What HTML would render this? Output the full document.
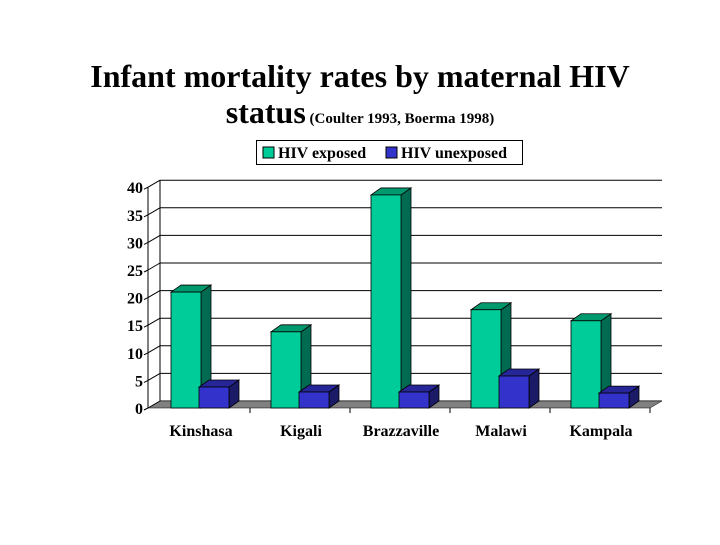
<!DOCTYPE html>
<html><head><meta charset="utf-8"><style>
body{margin:0;background:#fff;}
svg text{font-family:"Liberation Serif",serif;font-weight:bold;fill:#000;}
</style></head><body>
<svg width="720" height="540" viewBox="0 0 720 540">
<text x="360" y="87" font-size="32" text-anchor="middle">Infant mortality rates by maternal HIV</text>
<text x="360" y="123" text-anchor="middle"><tspan font-size="32">status</tspan><tspan font-size="15"> (Coulter 1993, Boerma 1998)</tspan></text>
<g>
<rect x="256.5" y="140.5" width="266" height="24" fill="#fff" stroke="#000"/>
<rect x="263" y="147" width="11" height="11" fill="#00cc99" stroke="#000"/>
<text x="278" y="158" font-size="16">HIV exposed</text>
<rect x="386" y="147" width="11" height="11" fill="#3333cc" stroke="#000"/>
<text x="401" y="158" font-size="16">HIV unexposed</text>
</g>
<g id="plot"></g>
</svg>
<script>
const categories=["Kinshasa","Kigali","Brazzaville","Malawi","Kampala"];
const exposed=[21,13.8,38.6,17.8,15.8];
const unexposed=[3.8,2.9,2.9,5.8,2.7];
const ticks=[0,5,10,15,20,25,30,35,40];
const NS="http://www.w3.org/2000/svg";
const g=document.getElementById('plot');
const X0=148,X1=650,Y0=408,DX=12,DY=-7,K=5.52;
const y=v=>Y0-v*K;
function mk(t,a,p){const e=document.createElementNS(NS,t);for(const k in a)e.setAttribute(k,a[k]);(p||g).appendChild(e);return e;}
ticks.forEach(t=>{const l=mk('line',{x1:X0+DX,x2:X1+DX,y1:y(t)+DY,y2:y(t)+DY,stroke:'#000','stroke-width':1});

});
mk('line',{x1:X0+DX,y1:y(40)+DY,x2:X0+DX,y2:Y0+DY,stroke:'#000'});
const ax=mk('line',{x1:X0,y1:y(40),x2:X0,y2:Y0,stroke:'#000'});


const fl=mk('polygon',{points:`${X0},${Y0} ${X0+DX},${Y0+DY} ${X1+DX},${Y0+DY} ${X1},${Y0}`,fill:'#808080',stroke:'#000','stroke-width':0.5});


ticks.forEach(t=>{
mk('line',{x1:X0-4,x2:X0,y1:y(t)+2,y2:y(t),stroke:'#000'});
mk('line',{x1:X0,x2:X0+DX,y1:y(t),y2:y(t)+DY,stroke:'#000'});
const tx=mk('text',{x:X0-5,y:y(t)+6,'font-size':16,'text-anchor':'end'});tx.textContent=t;


});
const W=30,DW=10,DH=-7,step=100,start=171;
function bar(x,v,front,side,top,name){
const yt=y(v);
const s=mk('g',{});


mk('polygon',{points:`${x+W},${Y0} ${x+W+DW},${Y0+DH} ${x+W+DW},${yt+DH} ${x+W},${yt}`,fill:side,stroke:'#000','stroke-width':0.8},s);
mk('polygon',{points:`${x},${yt} ${x+DW},${yt+DH} ${x+W+DW},${yt+DH} ${x+W},${yt}`,fill:top,stroke:'#000','stroke-width':0.8},s);
mk('rect',{x:x,y:yt,width:W,height:Y0-yt,fill:front,stroke:'#000','stroke-width':0.8},s);
}
categories.forEach((c,i)=>{
const x=start+i*step;
bar(x,exposed[i],'#00cc99','#006b50','#00996e','bar-exposed-'+c.toLowerCase());
bar(x+W-2,unexposed[i],'#3333cc','#1a1a66','#262699','bar-unexposed-'+c.toLowerCase());
const t=mk('text',{x:x+30,y:436,'font-size':16,'text-anchor':'middle'});t.textContent=c;


mk('line',{x1:X0+2+(i+1)*step,x2:X0+2+(i+1)*step,y1:Y0,y2:Y0+5,stroke:'#000'});
});
</script>
</body></html>
